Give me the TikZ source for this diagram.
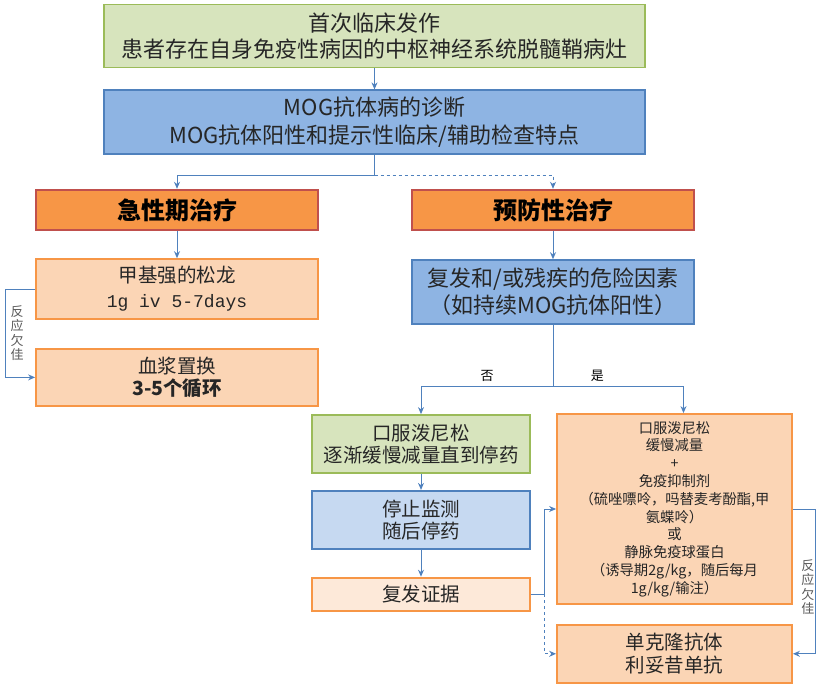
\documentclass[tikz,border=0pt]{standalone}
\usepackage{fontspec}
\setmainfont{Noto Sans CJK SC}
\newfontfamily\monofont{Liberation Mono}
\usetikzlibrary{arrows.meta,positioning}
\definecolor{grnfill}{HTML}{D7E4BD}
\definecolor{grnline}{HTML}{9BBB59}
\definecolor{bluefill}{HTML}{8EB4E3}
\definecolor{blueline}{HTML}{4F81BD}
\definecolor{ltbluefill}{HTML}{C6D9F1}
\definecolor{orgfill}{HTML}{F79646}
\definecolor{redline}{HTML}{C0504D}
\definecolor{peachfill}{HTML}{FBD5B5}
\definecolor{palefill}{HTML}{FDE9D9}
\definecolor{lblgray}{HTML}{595959}
\newcommand{\fs}[2]{\fontsize{#1}{#2}\selectfont}

\begin{document}
\begin{tikzpicture}[x=1pt,y=-1pt,>={Stealth[length=7pt,width=6pt]},
  box/.style={draw,line width=1.8pt,align=center,inner sep=2pt,text=black!85},
  greenbox/.style={box,draw=grnline,fill=grnfill},
  bluebox/.style={box,draw=blueline,fill=bluefill},
  headbox/.style={box,line width=2.4pt,draw=redline,fill=orgfill,text=black,font=\fs{24}{28}\bfseries},
  peachbox/.style={box,draw=orgfill,fill=peachfill},
  arr/.style={->,draw=blueline,line width=1pt},
  side/.style={font=\fs{13}{14.5},text=lblgray,align=center,inner sep=1pt}]
\useasboundingbox (0,0) rectangle (824,687);

% left column
\node[greenbox,minimum width=541pt,minimum height=63pt,font=\fs{22}{26}] (onset) at (374.5,36)
  {首次临床发作\\患者存在自身免疫性病因的中枢神经系统脱髓鞘病灶};
\node[bluebox,minimum width=541pt,minimum height=64pt,font=\fs{22}{28},below=21pt of onset] (diag)
  {MOG抗体病的诊断\\MOG抗体阳性和提示性临床/辅助检查特点};
\node[headbox,minimum width=282pt,minimum height=40pt] (acute) at (177,210) {急性期治疗};
\node[headbox,minimum width=282pt,minimum height=40pt] (prevent) at (553,210) {预防性治疗};
\node[peachbox,minimum width=282pt,minimum height=60pt,font=\fs{19.5}{25},below=27pt of acute] (mp)
  {甲基强的松龙\\{\monofont\fs{18}{25}1g iv 5-7days}};
\node[peachbox,minimum width=282pt,minimum height=57pt,font=\fs{19.5}{22},below=28pt of mp] (pe)
  {血浆置换\\\textbf{3-5个循环}};

% right column
\node[bluebox,minimum width=282pt,minimum height=64pt,font=\fs{22}{27},below=28pt of prevent] (risk)
  {复发和/或残疾的危险因素\\（如持续MOG抗体阳性）};
\node[greenbox,minimum width=218pt,minimum height=58pt,font=\fs{19.5}{22}] (taper) at (421,444)
  {口服泼尼松\\逐渐缓慢减量直到停药};
\node[box,draw=blueline,fill=ltbluefill,minimum width=218pt,minimum height=58pt,font=\fs{19.5}{22},below=16pt of taper] (stop)
  {停止监测\\随后停药};
\node[box,draw=orgfill,fill=palefill,minimum width=218pt,minimum height=33pt,font=\fs{19.5}{22},below=27pt of stop] (relapse)
  {复发证据};
\node[peachbox,minimum width=235pt,minimum height=190pt,font=\fs{14.3}{17.8}] (combo) at (674.5,509)
  {口服泼尼松\\缓慢减量\\+\\免疫抑制剂\\（硫唑嘌呤，吗替麦考酚酯,甲\\氨蝶呤）\\或\\静脉免疫球蛋白\\（诱导期2g/kg，随后每月\\1g/kg/输注）};
\node[peachbox,minimum width=235pt,minimum height=58pt,font=\fs{19.5}{23},below=19pt of combo] (mab)
  {单克隆抗体\\利妥昔单抗};

% connectors
\draw[arr] (onset) -- (diag);
\draw[blueline,line width=1pt] (diag.south) -- ++(0,20) coordinate (split);
\draw[arr] (split) -| (acute);
\draw[arr,dashed] (split) -| (prevent);
\draw[arr] (acute) -- (mp);
\draw[arr] (mp.west) -- ++(-30,0) |- node[side,pos=0.25,right=4pt]{反\\应\\欠\\佳} (pe.west);
\draw[arr] (prevent) -- (risk);
\draw[blueline,line width=1pt] (risk.south) -- ++(0,61) coordinate (split2);
\draw[arr] (split2) -| node[side,pos=0.25,above=3pt,text=black]{否} (taper);
\draw[arr] (split2) -| node[side,pos=0.17,above=3pt,text=black]{是} ([xshift=9pt]combo.north);
\draw[arr] (taper) -- (stop);
\draw[arr] (stop) -- (relapse);
\draw[blueline,line width=1pt] (relapse.east) -- ++(14,0) coordinate (rj);
\draw[arr] (rj) |- (combo.west);
\draw[arr,dashed] (rj) |- (mab.west);
\draw[arr] (combo.east) -- ++(23,0) |- node[side,pos=0.27,left=0pt]{反\\应\\欠\\佳} (mab.east);
\end{tikzpicture}
\end{document}
